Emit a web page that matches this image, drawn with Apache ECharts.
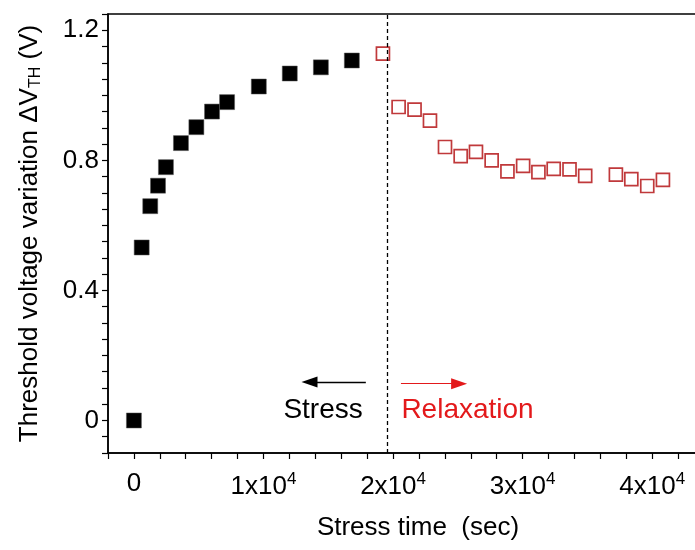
<!DOCTYPE html>
<html>
<head>
<meta charset="utf-8">
<script src="https://cdn.jsdelivr.net/npm/echarts@6/dist/echarts.min.js"></script>
<style>
  html, body { margin: 0; padding: 0; background: #fff; }
  #main { width: 695px; height: 550px; }
</style>
</head>
<body>
<div id="main"></div>
<script>
// stress phase (filled squares)
var stressTime = [0, 600, 1260, 1860, 2470, 3630, 4820, 6030, 7190, 9640, 12030, 14430, 16820];
var stressShift = [0, 0.532, 0.659, 0.722, 0.779, 0.853, 0.902, 0.950, 0.979, 1.027, 1.067, 1.086, 1.107];
// relaxation phase (open squares)
var relaxTime = [19220, 20430, 21660, 22850, 24010, 25220, 26400, 27610, 28830, 30040, 31220, 32400, 33620, 34830, 37200, 38390, 39620, 40830];
var relaxShift = [1.128, 0.964, 0.956, 0.922, 0.841, 0.813, 0.826, 0.800, 0.766, 0.783, 0.764, 0.774, 0.772, 0.752, 0.756, 0.742, 0.721, 0.740];

// where stress stops
var switchTime = 19550;
// arrows + labels (data units)
var stressArrow = [[17900, 0.118], [13550, 0.118]];
var relaxArrow = [[20610, 0.113], [25100, 0.113]];
var stressLabel = [14600, 0.031];
var relaxLabel = [25750, 0.031];

var FONT = "'Liberation Sans', Arial, sans-serif";
var RED = '#e3191b';

function pairs(xs, ys) {
	var out = [];
	for (var i = 0; i < xs.length; i++) out.push([xs[i], ys[i]]);
	return out;
}

var myChart = echarts.init(document.getElementById('main'));

var option = {
	animation: false,
	grid: {
		left: 108, top: 14, right: -9, bottom: 97,
		outerBoundsMode: 'none',
		containLabel: false,
		show: true, borderColor: '#000', borderWidth: 1.5
	},
	xAxis: {
		type: 'value',
		min: -2000, max: 44000, interval: 2000,
		name: 'Stress time  (sec)',
		nameLocation: 'middle',
		nameGap: 62,
		nameTextStyle: { fontFamily: FONT, fontSize: 26, color: '#000', padding: [0, 0, 0, 24] },
		axisLine: { onZero: false, lineStyle: { color: '#000', width: 1.5 } },
		axisTick: { length: 6, lineStyle: { color: '#000', width: 1.2 } },
		splitLine: { show: false },
		axisLabel: {
			margin: 18,
			fontFamily: FONT, fontSize: 26, color: '#000',
			formatter: function(v) {
				if (v % 10000 !== 0 || v < 0) return '';
				if (v === 0) return '0';
				return (v / 10000) + 'x10{sup|4}';
			},
			rich: {
				sup: { fontFamily: FONT, fontSize: 17, color: '#000', padding: [0, 0, 14, 0] }
			}
		}
	},
	yAxis: {
		type: 'value',
		min: -0.1, max: 1.25, interval: 0.05,
		name: 'Threshold voltage variation ΔV{sub|TH} (V)',
		nameLocation: 'middle',
		nameRotate: 90,
		nameGap: 64,
		nameTextStyle: {
			fontFamily: FONT, fontSize: 26, color: '#000',
			rich: {
				sub: { fontFamily: FONT, fontSize: 16, color: '#000', padding: [12, 0, 0, 0] }
			}
		},
		axisLine: { onZero: false, lineStyle: { color: '#000', width: 1.5 } },
		axisTick: { length: 6, lineStyle: { color: '#000', width: 1.2 } },
		splitLine: { show: false },
		axisLabel: {
			margin: 9,
			fontFamily: FONT, fontSize: 26, color: '#000',
			formatter: function(v) {
				var k = v / 0.4;
				if (Math.abs(k - Math.round(k)) > 1e-6) return '';
				if (Math.abs(v) < 1e-9) return '0';
				return v.toFixed(1);
			}
		}
	},
	series: [
		{
			name: 'Stress',
			type: 'scatter',
			symbol: 'rect',
			symbolSize: 15,
			itemStyle: { color: '#000', opacity: 1, borderColor: '#555', borderWidth: 0.5 },
			data: pairs(stressTime, stressShift),
			markLine: {
				silent: true,
				animation: false,
				label: { show: false },
				data: [
					[
						{ coord: [switchTime, -0.1], symbol: 'none' },
						{ coord: [switchTime, 1.25], symbol: 'none' }
					],
					[
						{ coord: stressArrow[0], symbol: 'none' },
						{ coord: stressArrow[1], symbol: 'triangle', symbolSize: [11, 16] }
					]
				],
				lineStyle: { color: '#000', width: 1.3, type: [4, 3], opacity: 1 }
			},
			markPoint: {
				silent: true,
				symbol: 'rect',
				symbolSize: 0,
				data: [{
					coord: stressLabel,
					label: { show: true, formatter: 'Stress', fontFamily: FONT, fontSize: 28, color: '#000' }
				}]
			}
		},
		{
			name: 'Relaxation',
			type: 'scatter',
			symbol: 'rect',
			symbolSize: 13,
			itemStyle: { color: '#fff', opacity: 1, borderColor: '#c0393b', borderWidth: 1.7 },
			data: pairs(relaxTime, relaxShift),
			markLine: {
				silent: true,
				animation: false,
				label: { show: false },
				data: [[
					{ coord: relaxArrow[0], symbol: 'none' },
					{ coord: relaxArrow[1], symbol: 'triangle', symbolSize: [11, 16] }
				]],
				lineStyle: { color: RED, width: 1.2, type: 'solid', opacity: 1 }
			},
			markPoint: {
				silent: true,
				symbol: 'rect',
				symbolSize: 0,
				data: [{
					coord: relaxLabel,
					label: { show: true, formatter: 'Relaxation', fontFamily: FONT, fontSize: 28, color: RED }
				}]
			}
		}
	]
};

// the stress arrow is solid, the divider is dashed
option.series[0].markLine.data[1][0].lineStyle = { type: 'solid' };
option.series[0].markLine.data[1][1].lineStyle = { type: 'solid' };

myChart.setOption(option);
</script>
</body>
</html>
